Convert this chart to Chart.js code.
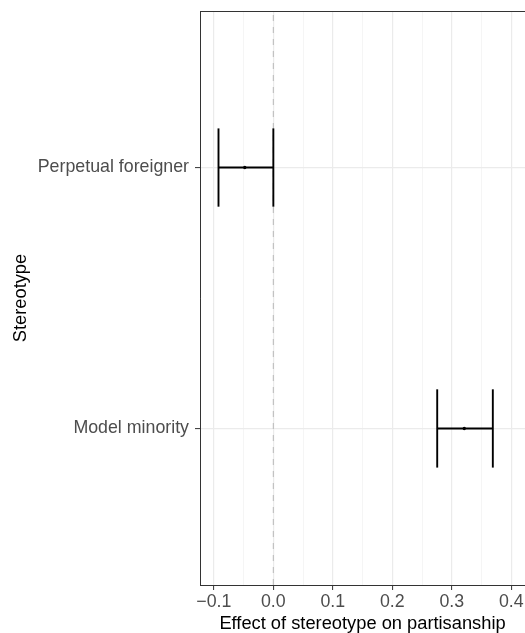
<!DOCTYPE html>
<html>
<head>
<meta charset="utf-8">
<script src="https://cdn.jsdelivr.net/npm/chart.js@4/dist/chart.umd.min.js"></script>
<style>
  html, body { margin: 0; padding: 0; background: #ffffff; }
  #wrap { width: 525px; height: 633px; }
</style>
</head>
<body>
<div id="wrap"><canvas id="c" width="525" height="633"></canvas></div>
<script>
// ---- data ----
const categories = ['Model minority', 'Perpetual foreigner'];   // bottom -> top
const estimates  = [0.321, -0.048];
const ciLower    = [0.2755, -0.0922];
const ciUpper    = [0.369, 0.0];
const xMajorTicks = [-0.1, 0.0, 0.1, 0.2, 0.3, 0.4];
const xTickLabels = ['\u22120.1', '0.0', '0.1', '0.2', '0.3', '0.4'];
const xMinorTicks = [-0.05, 0.05, 0.15, 0.25, 0.35];
const referenceLine = [0];

// ---- layout / style constants ----
const X_MIN = -0.1233, X_MAX = 0.4231;
const Y_MIN = 0.4, Y_MAX = 2.6;
const CAP = 0.15;
const TICK_FONT = { family: 'Liberation Sans, Arial, sans-serif', size: 17.8, lineHeight: 1 };
const TITLE_FONT = { family: 'Liberation Sans, Arial, sans-serif', size: 18.3, lineHeight: 1 };

const isMajor = v => xMajorTicks.some(m => Math.abs(m - v) < 1e-9);

const datasets = [];
categories.forEach((cat, i) => {
  const y = i + 1;
  const lineStyle = { showLine: true, borderColor: '#000000', borderWidth: 1.9, pointRadius: 0, fill: false, order: 1 };
  datasets.push(Object.assign({ label: cat + ' CI', data: [{x: ciLower[i], y: y}, {x: ciUpper[i], y: y}] }, lineStyle));
  datasets.push(Object.assign({ label: cat + ' low cap', data: [{x: ciLower[i], y: y - CAP}, {x: ciLower[i], y: y + CAP}] }, lineStyle));
  datasets.push(Object.assign({ label: cat + ' high cap', data: [{x: ciUpper[i], y: y - CAP}, {x: ciUpper[i], y: y + CAP}] }, lineStyle));
});
datasets.push({
  label: 'estimate',
  data: categories.map((c, i) => ({x: estimates[i], y: i + 1})),
  showLine: false, pointRadius: 1.7, pointBackgroundColor: '#000000', pointBorderWidth: 0, order: 0
});
referenceLine.forEach(v => {
  datasets.push({
    label: 'zero',
    data: [{x: v, y: Y_MIN}, {x: v, y: Y_MAX}],
    showLine: true, borderColor: '#bdbdbd', borderWidth: 1.1, borderDash: [6, 6],
    pointRadius: 0, fill: false, order: 10
  });
});

const topBorder = {
  id: 'topBorder',
  afterDraw(chart) {
    const {ctx, chartArea} = chart;
    ctx.save();
    ctx.strokeStyle = '#333333';
    ctx.lineWidth = 1;
    ctx.beginPath();
    ctx.moveTo(chartArea.left, chartArea.top + 0.5);
    ctx.lineTo(chartArea.right + 2, chartArea.top + 0.5);
    ctx.stroke();
    ctx.restore();
  }
};

new Chart(document.getElementById('c'), {
  type: 'scatter',
  data: { datasets },
  plugins: [topBorder],
  options: {
    responsive: false,
    animation: false,
    devicePixelRatio: 1,
    layout: { padding: { top: 11, left: 0, right: 0, bottom: 0 }, autoPadding: false },
    plugins: { legend: { display: false }, tooltip: { enabled: false } },
    scales: {
      x: {
        type: 'linear',
        min: X_MIN, max: X_MAX,
        afterBuildTicks: s => {
          s.ticks = xMajorTicks.concat(xMinorTicks).sort((a, b) => a - b).map(v => ({ value: v }));
        },
        afterFit: s => { s.height = 48; s.paddingLeft = 0; s.paddingRight = 0; },
        ticks: {
          autoSkip: false, maxRotation: 0, padding: 3,
          color: '#4d4d4d', font: TICK_FONT,
          callback: (v) => {
            const k = xMajorTicks.findIndex(m => Math.abs(m - v) < 1e-9);
            return k >= 0 ? xTickLabels[k] : '';
          }
        },
        grid: {
          color: ctx => (ctx.tick && isMajor(ctx.tick.value)) ? '#ebebeb' : '#f2f2f2',
          lineWidth: ctx => (ctx.tick && isMajor(ctx.tick.value)) ? 1.2 : 0.8,
          tickColor: ctx => (ctx.tick && isMajor(ctx.tick.value)) ? '#333333' : 'rgba(0,0,0,0)',
          tickLength: 5, tickWidth: 1
        },
        border: { display: true, color: '#333333', width: 1 },
        title: {
          display: true, text: 'Effect of stereotype on partisanship',
          color: '#000000', font: TITLE_FONT, padding: { top: 0, bottom: 0 }
        }
      },
      y: {
        type: 'linear',
        min: Y_MIN, max: Y_MAX,
        afterBuildTicks: s => { s.ticks = categories.map((c, i) => ({ value: i + 1 })); },
        afterFit: s => { s.width = 200; s.paddingTop = 0; s.paddingBottom = 0; },
        ticks: {
          autoSkip: false, padding: 6,
          color: '#4d4d4d', font: TICK_FONT,
          callback: (v) => categories[Math.round(v) - 1]
        },
        grid: { color: '#ebebeb', lineWidth: 1.2, tickColor: '#333333', tickLength: 5, tickWidth: 1 },
        border: { display: true, color: '#333333', width: 1 },
        title: {
          display: true, text: 'Stereotype',
          color: '#000000', font: TITLE_FONT, padding: { top: 12, bottom: 0 }
        }
      }
    }
  }
});
</script>
</body>
</html>
